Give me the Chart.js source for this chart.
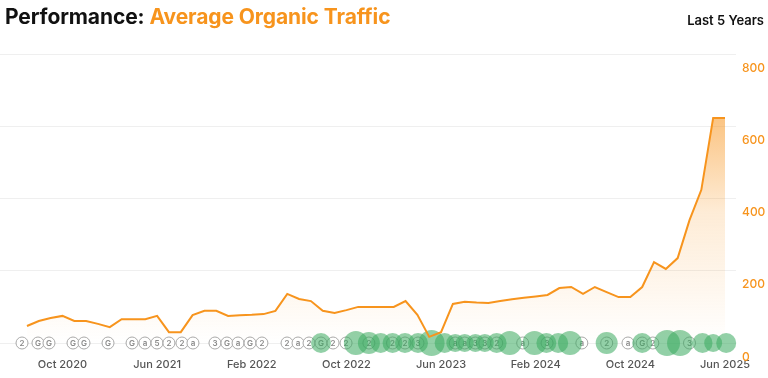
<!DOCTYPE html>
<html>
<head>
<meta charset="utf-8">
<script src="https://cdn.jsdelivr.net/npm/chart.js@4.4.1/dist/chart.umd.min.js"></script>
<style>
  body { margin: 0; background: #fff; font-family: Inter, "Noto Sans", sans-serif; }
  .wrap { position: relative; width: 768px; height: 378px; }
  .title { position: absolute; left: 5px; top: 4px; font-size: 21px; font-weight: 700; color: #111; letter-spacing: -0.1px; }
  .title span { color: #f7941d; }
  .range { position: absolute; right: 4px; top: 12px; font-size: 13px; font-weight: 600; color: #111; }
  canvas { position: absolute; left: 0; top: 0; }
</style>
</head>
<body>
<div class="wrap">
  <canvas id="myChart" width="768" height="378"></canvas>
  <div class="title">Performance: <span>Average Organic Traffic</span></div>
  <div class="range">Last 5 Years</div>
</div>
<script>
// monthly points, Jul 2020 .. Jun 2025
const monthNames = ['Jan', 'Feb', 'Mar', 'Apr', 'May', 'Jun', 'Jul', 'Aug', 'Sep', 'Oct', 'Nov', 'Dec'];
const traffic = [47, 61, 69, 75, 61, 61, 53, 44, 66, 66, 66, 75, 30, 30, 77, 89, 89, 75, 77, 78,
    80, 89, 136, 122, 116, 89, 83, 91, 100, 100, 100, 100, 116, 78, 17, 30, 108, 114, 112, 111,
    116, 121, 125, 129, 133, 152, 155, 136, 155, 141, 127, 127, 155, 224, 205, 235, 340, 424, 623, 623];
const xTicks = [3, 11, 19, 27, 35, 43, 51, 59];
const yTicks = [0, 200, 400, 600, 800];

// annotation markers (month offset from Jul 2020) and their letters
const markerPos = [-0.42, 0.93, 1.86, 3.89, 4.82, 6.85, 8.88, 9.97, 10.99, 12.0, 13.1, 14.03, 15.89, 16.9,
    17.84, 18.85, 19.86, 21.98, 22.91, 23.84, 24.85, 25.87, 26.97, 28.9, 30.9, 31.95, 33.05, 36.2, 37.0,
    37.9, 38.7, 39.7, 41.9, 43.96, 46.9, 49.0, 50.8, 52.0, 52.9, 56.0];
const markerText = ['2', 'G', 'G', 'G', 'G', 'G', 'G', 'a', '5', '2', '2', 'a', '3', 'G', 'a', 'G', '2', '2',
    'a', '2', 'G', '2', '2', '2', '2', '2', '3', 'a', 'a', '3', '3', '2', 'a', '3', 'a', '2', 'a', 'G', '2', '3'];

// google updates (month offset) and bubble size
const updatePos = [24.85, 27.8, 28.9, 29.9, 30.9, 31.95, 33.05, 34.2, 35.3, 36.2, 37.0, 37.9, 38.7, 39.7,
    40.8, 42.9, 43.9, 44.9, 45.9, 49.0, 52.0, 54.1, 55.2, 57.1, 58.0, 59.1];
const updateSize = [10, 12, 11, 10, 10, 10, 10, 13, 10, 9, 9, 9, 9, 10, 12, 12, 10, 10, 12, 11, 10, 13, 13, 10, 9, 10];

function monthLabel(i) {
    const m = 6 + i;
    return monthNames[m % 12] + ' ' + (2020 + Math.floor(m / 12));
}

const markerText_plugin = {
    id: 'markerText',
    afterDatasetDraw(chart, args) {
        if (args.index !== 2) return;
        const ctx = chart.ctx;
        ctx.save();
        ctx.font = '600 8px Inter, sans-serif';
        ctx.fillStyle = '#8a8a8a';
        ctx.textAlign = 'center';
        ctx.textBaseline = 'middle';
        args.meta.data.forEach((el, i) => {
            ctx.fillText(markerText[i], el.x, el.y + 0.5);
        });
        ctx.restore();
    }
};

const ctx = document.getElementById('myChart');

const myChart = new Chart(ctx, {
    data: {
        datasets: [{
            type: 'line',
            label: 'Organic Traffic',
            data: traffic.map((v, i) => ({ x: i, y: v })),
            borderColor: '#f7941d',
            borderWidth: 2,
            pointRadius: 0,
            tension: 0,
            fill: 'origin',
            backgroundColor: function (context) {
                const area = context.chart.chartArea;
                if (!area) return 'rgba(247,148,29,0.3)';
                const g = context.chart.ctx.createLinearGradient(0, area.top, 0, area.bottom);
                g.addColorStop(0, 'rgba(247,148,29,0.8)');
                g.addColorStop(0.55, 'rgba(247,148,29,0.18)');
                g.addColorStop(1, 'rgba(247,148,29,0)');
                return g;
            },
            order: 0
        }, {
            type: 'bubble',
            label: 'Updates',
            data: updatePos.map((p, i) => ({ x: p, y: 0, r: updateSize[i] })),
            backgroundColor: 'rgba(56,170,95,0.55)',
            borderWidth: 0,
            clip: false,
            order: 1
        }, {
            type: 'bubble',
            label: 'Notes',
            data: markerPos.map(p => ({ x: p, y: 0, r: 6 })),
            backgroundColor: '#fff',
            borderColor: '#a8a8a8',
            borderWidth: 1,
            clip: false,
            order: 2
        }]
    },
    options: {
        responsive: false,
        animation: false,
        layout: { autoPadding: false, padding: { left: 0, right: 3, top: 54, bottom: 0 } },
        plugins: { legend: { display: false }, tooltip: { enabled: false } },
        scales: {
            x: {
                type: 'linear',
                min: -2.28,
                max: 59.93,
                grid: { display: false, drawTicks: false },
                border: { display: false },
                afterBuildTicks: function (scale) {
                    scale.ticks = xTicks.map(v => ({ value: v }));
                },
                afterFit: function (scale) {
                    scale.height = 35;
                    scale.paddingLeft = 0;
                    scale.paddingRight = 0;
                },
                ticks: {
                    autoSkip: false,
                    maxRotation: 0,
                    padding: 15,
                    color: '#555',
                    font: { family: 'Inter', size: 11, weight: '500' },
                    callback: function (v) { return monthLabel(v); }
                }
            },
            y: {
                position: 'right',
                min: 0,
                max: 800,
                grid: { color: '#efefef', drawTicks: false },
                border: { display: false },
                afterBuildTicks: function (scale) {
                    scale.ticks = yTicks.map(v => ({ value: v }));
                },
                afterFit: function (scale) {
                    scale.width = 29;
                },
                ticks: {
                    padding: 6,
                    labelOffset: 14,
                    color: '#f7941d',
                    font: { family: 'Inter', size: 12, weight: '500' }
                }
            }
        }
    },
    plugins: [markerText_plugin]
});
</script>
</body>
</html>
